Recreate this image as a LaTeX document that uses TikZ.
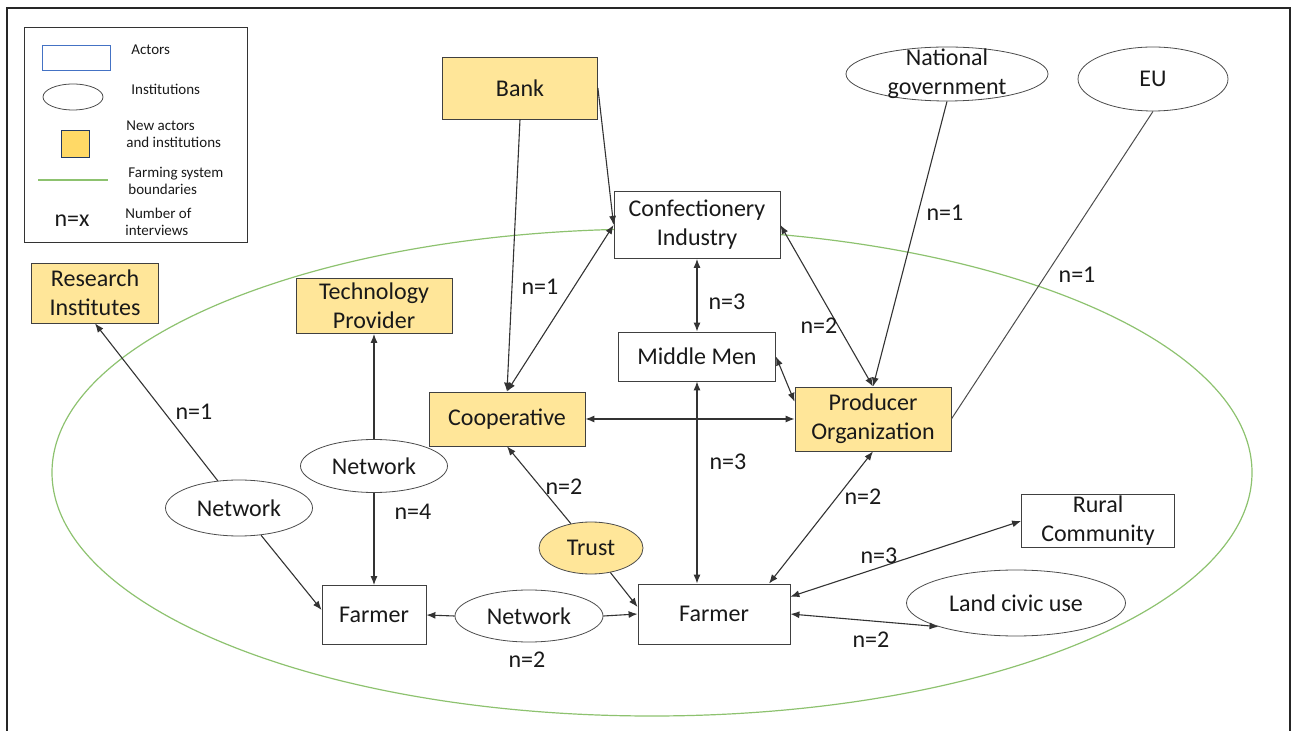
\documentclass[tikz,border=0pt]{standalone}
\usepackage{fontspec}
\setmainfont{Carlito}
\usepackage{tikz}
\usetikzlibrary{shapes,arrows.meta,positioning,calc}
\definecolor{newgold}{HTML}{FFE699}
\definecolor{leggold}{HTML}{FFD966}
\definecolor{fsgreen}{HTML}{8DC26F}
\definecolor{actblue}{HTML}{4472C4}
\newcommand{\nodefont}{\fontsize{12}{14.5}\selectfont}
\newcommand{\legendfont}{\fontsize{7.5}{8.5}\selectfont}
\tikzset{
actor/.style = {draw=black!75, fill=white, rectangle, align=center, inner sep=1pt, font=\nodefont, text=black!90},
newactor/.style = {actor, fill=newgold},
inst/.style = {draw=black!70, fill=white, ellipse, align=center, inner sep=0pt, font=\nodefont, text=black!90},
newinst/.style = {inst, fill=newgold},
count/.style = {font=\nodefont, inner sep=1pt, text=black!90},
legtxt/.style = {font=\legendfont, align=left, anchor=west, inner sep=0pt, text=black!90},
link/.style = {->, draw=black!80, line width=0.55pt},
both/.style = {<->, draw=black!80, line width=0.55pt},
plain/.style = {draw=black!70, line width=0.5pt}
}

\begin{document}
\begin{tikzpicture}[x=0.5pt, y=-0.5pt, >={Latex[length=4.5pt,width=3.5pt]}]
    \useasboundingbox (0,0) rectangle (1295,731);
    % frame and farming system boundary
    \draw[black!85, line width=0.9pt] (7,745) -- (7,8) -- (1290,8) -- (1290,745);
    \draw[fsgreen, line width=0.6pt] (652,472.5) ellipse [x radius=300pt, y radius=121.75pt];

    % legend
    \draw[black!80, line width=0.5pt] (24,28) rectangle (247,243);
    \node[draw=actblue, minimum width=34pt, minimum height=12.5pt, inner sep=0pt] (legact) at (76,57.5) {};
    \node[draw=black!70, ellipse, minimum width=30pt, minimum height=13pt, inner sep=0pt] (leginst) at (73,97) {};
    \node[draw=black!50!actblue, fill=leggold, minimum width=14pt, minimum height=13.5pt, inner sep=0pt] (legnew) at (75,143.5) {};
    \draw[fsgreen, line width=0.6pt] (38,180) -- (108,180);
    \node[count] (legn) at (72,221) {n=x};
    \node[legtxt] (legactt) at (131,50) {Actors};
    \node[legtxt] (leginstt) at (131,89) {Institutions};
    \node[legtxt] (legnewt) at (126,134.5) {New actors\\and institutions};
    \node[legtxt] (legfst) at (128,181) {Farming system\\boundaries};
    \node[legtxt] (legnt) at (125,221.5) {Number of\\interviews};

    % actors and institutions
    \node[newactor, minimum width=77.5pt, minimum height=31pt] (bank) at (520,88) {Bank};
    \node[actor, minimum width=83pt, minimum height=33.5pt] (conf) at (697,225) {Confectionery\\Industry};
    \node[actor, below of=conf, node distance=65.75pt, minimum width=78.5pt, minimum height=24.5pt] (mm) {Middle Men};
    \node[newactor, minimum width=78pt, minimum height=27pt] (coop) at (507,419) {Cooperative};
    \node[newactor, minimum width=78pt, minimum height=32pt] (po) at (873,419) {Producer\\Organization};
    \node[newactor, minimum width=63.5pt, minimum height=30pt] (ri) at (95,293) {Research\\Institutes};
    \node[inst, minimum width=73.5pt, minimum height=26.5pt] (netU) at (374,466) {Network};
    \node[newactor, above of=netU, node distance=80pt, minimum width=78pt, minimum height=27.5pt] (tp) {Technology\\Provider};
    \node[inst, minimum width=73.5pt, minimum height=28pt] (netL) at (239,508) {Network};
    \node[actor, minimum width=52pt, minimum height=29.5pt] (farmerL) at (374,615) {Farmer};
    \node[inst, minimum width=74pt, minimum height=26pt] (netB) at (529,616) {Network};
    \node[newinst, minimum width=52pt, minimum height=26pt] (trust) at (591,548) {Trust};
    \node[actor, minimum width=76pt, minimum height=30pt] (farmerR) at (714,614) {Farmer};
    \node[actor, minimum width=76.5pt, minimum height=26.5pt] (rural) at (1098,521) {Rural\\Community};
    \node[inst, minimum width=109.5pt, minimum height=33pt] (land) at (1016,603) {Land civic use};
    \node[inst, minimum width=101pt, minimum height=27pt] (natgov) at (947,74) {};
    \node[align=center, font=\nodefont, text=black!90] (natgovt) at (natgov) {National\\government};
    \node[inst, minimum width=75pt, minimum height=32pt] (eu) at (1153,79) {EU};

    % connectors
    \draw[link] (bank.south) -- (coop.north);
    \draw[link] (bank.east) -- (conf.west);
    \draw[both] (coop.north) -- (conf.west);
    \draw[both] (conf.south) -- (mm.north);
    \draw[both] (conf.east) -- (po.north);
    \draw[link] (natgov.south) -- (po.north);
    \draw[plain] (eu.south) -- (po.east);
    \draw[both] (mm.east) -- ($(po.north west)!0.47!(po.west)$);
    \draw[both] (coop.east) -- (po.west);
    \draw[both] (mm.south) -- (mm.south |- farmerR.north);
    \draw[link] (trust) -- (coop.south);
    \draw[link] (trust) -- ($(farmerR.west)+(0,-7)$);
    \draw[link] (netB.west) -- (farmerL.east);
    \draw[link] (netB.east) -- (farmerR.west);
    \draw[link] (netL) -- (ri.south);
    \draw[link] (netL) -- ($(farmerL.west)+(0,-5)$);
    \draw[link] (netU.north) -- (tp.south);
    \draw[link] (netU.south) -- (farmerL.north);
    \draw[both] ($(farmerR.north)!0.72!(farmerR.north east)$) -- (po.south);
    \draw[both] ($(farmerR.east)!0.57!(farmerR.north east)$) -- (rural.west);
    \draw[both] (farmerR.east) -- (land.197);

    % interview counts
    \node[count] (c1) at (540,287) {n=1};
    \node[count] (c2) at (727,302) {n=3};
    \node[count] (c3) at (819,326) {n=2};
    \node[count] (c4) at (945,213) {n=1};
    \node[count] (c5) at (1077,275) {n=1};
    \node[count] (c6) at (194,412) {n=1};
    \node[count] (c7) at (413,512) {n=4};
    \node[count] (c8) at (564,487) {n=2};
    \node[count] (c9) at (728,462) {n=3};
    \node[count] (c10) at (863,497) {n=2};
    \node[count] (c11) at (879,556) {n=3};
    \node[count] (c12) at (871,640) {n=2};
    \node[count] (c13) at (527,660) {n=2};
\end{tikzpicture}
\end{document}
